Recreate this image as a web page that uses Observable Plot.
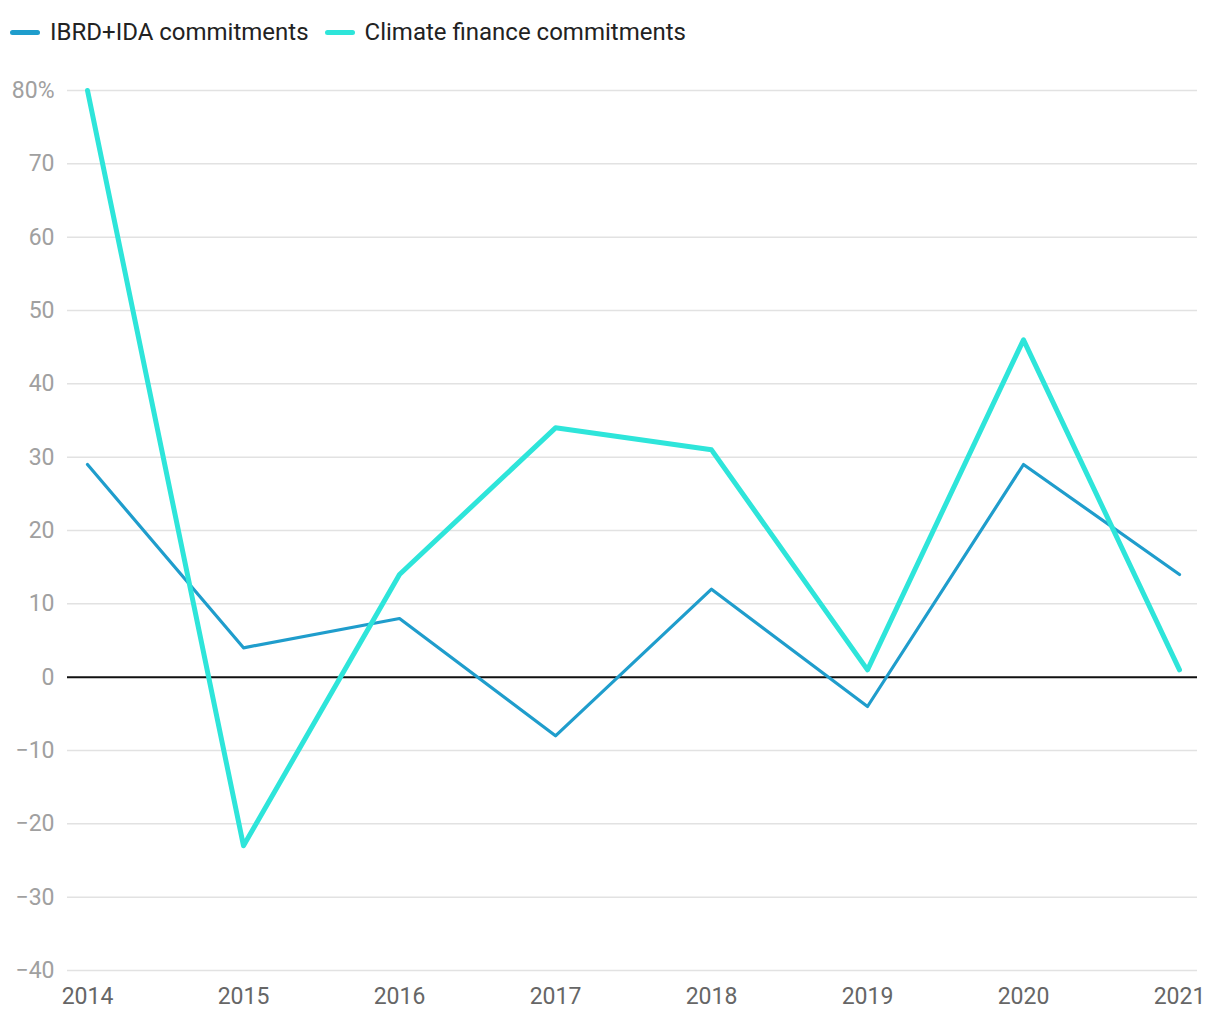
<!DOCTYPE html>
<html><head><meta charset="utf-8">
<script src="https://cdn.jsdelivr.net/npm/d3@7"></script>
<script src="https://cdn.jsdelivr.net/npm/@observablehq/plot@0.6"></script>
<style>
body{margin:0;background:#fff;font-family:Roboto,sans-serif;}
#legend{height:60px;display:flex;align-items:center;padding-left:10px;font-size:24px;color:#222;box-sizing:border-box;padding-top:4px}
.item{display:flex;align-items:center;margin-right:16px}
.sw{width:30px;height:5px;border-radius:3px;margin-right:10px}
</style></head><body>
<div id="legend"></div>
<div id="chart"></div>
<script>
const years = [2014, 2015, 2016, 2017, 2018, 2019, 2020, 2021];
const ibrdIda = [29, 4, 8, -8, 12, -4, 29, 14];
const climate = [80, -23, 14, 34, 31, 1, 46, 1];
const seriesNames = ["IBRD+IDA commitments", "Climate finance commitments"];
const colors = ["#1f9dcc", "#2ee5da"];
const yTicks = [-40, -30, -20, -10, 0, 10, 20, 30, 40, 50, 60, 70, 80];

const legend = document.getElementById("legend");
seriesNames.forEach((n, i) => {
  const d = document.createElement("div"); d.className = "item";
  d.innerHTML = `<span class="sw" style="background:${colors[i]}"></span><span>${n}</span>`;
  legend.appendChild(d);
});

const data = years.flatMap((y, i) => [
  {year: y, value: ibrdIda[i], series: seriesNames[0]},
  {year: y, value: climate[i], series: seriesNames[1]}
]);

const fmtY = d => d === 80 ? "80%" : (d < 0 ? "\u2212" + Math.abs(d) : String(d));

const chart = Plot.plot({
  width: 1220, height: 960,
  marginTop: 30, marginBottom: 50, marginLeft: 87, marginRight: 41,
  style: {fontFamily: "Roboto, sans-serif", fontSize: "23px", background: "#fff"},
  x: {domain: [2014, 2021], label: null},
  y: {domain: [-40, 80], label: null},
  marks: [
    Plot.ruleY(yTicks.filter(d => d !== 0), {stroke: "#e2e2e2", strokeWidth: 1.5, insetLeft: -20, insetRight: -18}),
    Plot.ruleY([0], {stroke: "#111", strokeWidth: 2, insetLeft: -20, insetRight: -18}),
    Plot.axisY({ticks: yTicks, tickSize: 0, tickPadding: 33, fill: "#a0a0a0", fontSize: 23, tickFormat: fmtY, label: null}),
    Plot.axisX({ticks: years, tickSize: 0, tickPadding: 17, fill: "#666", fontSize: 23, tickFormat: d => String(d), label: null}),
    Plot.line(data.filter(d => d.series === seriesNames[0]), {x: "year", y: "value", stroke: colors[0], strokeWidth: 3.2, strokeLinejoin: "round", strokeLinecap: "round"}),
    Plot.line(data.filter(d => d.series === seriesNames[1]), {x: "year", y: "value", stroke: colors[1], strokeWidth: 5, strokeLinejoin: "round", strokeLinecap: "round"})
  ]
});
document.getElementById("chart").appendChild(chart);
</script>
</body></html>
